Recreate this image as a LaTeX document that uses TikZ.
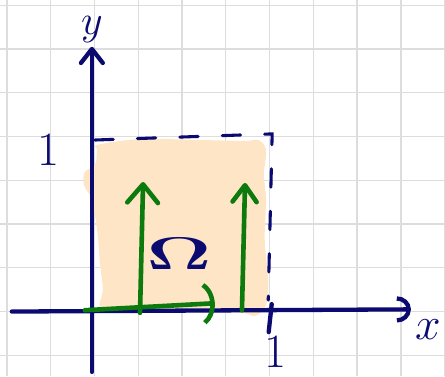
\documentclass[tikz,border=0pt]{standalone}
\usepackage{xcolor}
\definecolor{InkNavy}{RGB}{10, 10, 112}
\definecolor{InkGreen}{RGB}{12, 122, 12}
\definecolor{PeachFill}{RGB}{253, 229, 198}
\definecolor{GridGray}{RGB}{221, 221, 221}
\usetikzlibrary{
    arrows.meta,
    positioning
    }

\begin{document}
\begin{tikzpicture}[
    axis/.style={InkNavy, line width=2.8pt, line cap=round},
    vec/.style={InkGreen, line width=3pt, line cap=round},
    handtext/.style={text=InkNavy, anchor=center, inner sep=0pt, font=\Huge}
    ]

    \useasboundingbox (-2.16,-1.474) rectangle (8.01,7.12);

    %Grid
    \draw[GridGray, line width=0.9pt] (-2.16,-1.474) grid (8.01,7.12);

    %Domain
    \fill[PeachFill] plot[smooth cycle, tension=0.6] coordinates {
        (0.08,3.81) (1.04,3.94) (2.41,3.92) (3.44,3.90) (3.74,3.92) (3.92,3.69)
        (3.87,3.12) (3.92,2.55) (3.89,1.63) (3.97,0.72) (3.92,0.15) (3.67,-0.10)
        (3.33,-0.03) (1.95,-0.01) (0.58,0.03) (0.13,0.08) (0.19,0.49) (0.13,1.06)
        (0.06,1.86) (-0.06,2.55) (-0.24,2.89) (-0.22,3.19) (0.01,3.35) (0.06,3.69)};

    %Unit square
    \draw[InkNavy, line width=2pt, line cap=round, dash pattern=on 0.42cm off 0.55cm] (0.01,3.92) -- (4.06,4.06) -- (3.97,0.26);

    %Axes
    \coordinate (xstart) at (-1.89,0);
    \coordinate (xend) at (7.23,0.05);
    \coordinate (ystart) at (-0.06,-1.38);
    \coordinate (yend) at (-0.06,6.05);
    \draw[axis, -{Arc Barb[length=0.32cm, width=0.6cm]}] (xstart) -- (xend);
    \draw[axis, -{Straight Barb[round, length=0.32cm, width=0.5cm]}] (ystart) -- (yend);
    \draw[axis] (4.05,0.17) -- (3.98,-0.47);
    \node[handtext] (xlab) at (7.62,-0.42) {\scalebox{1.2}{$x$}};
    \node[handtext] (ylab) at (-0.06,6.45) {\scalebox{1.1}{$y$}};
    \node[handtext] (xone) at (4.13,-0.92) {\scalebox{1.25}{1}};
    \node[handtext] (yone) at (-1.06,3.69) {\scalebox{1.25}{1}};

    %Omega
    \node[handtext] (omega) at (1.93,1.33) {\scalebox{2.1}[1.2]{$\mathbf{\Omega}$}};

    %Vectors
    \coordinate (ua) at (1.04,-0.03);
    \coordinate (ub) at (1.11,2.96);
    \coordinate (va) at (3.37,0.03);
    \coordinate (vb) at (3.44,2.94);
    \coordinate (wa) at (-0.22,0.03);
    \coordinate (wb) at (2.75,0.19);
    \draw[vec, -{Straight Barb[round, length=0.42cm, width=0.7cm]}] (ua) -- (ub);
    \draw[vec, -{Straight Barb[round, length=0.38cm, width=0.55cm]}] (va) -- (vb);
    \draw[vec, -{Arc Barb[length=0.45cm, width=1.1cm, arc=120]}] (wa) -- (wb);

\end{tikzpicture}
\end{document}
